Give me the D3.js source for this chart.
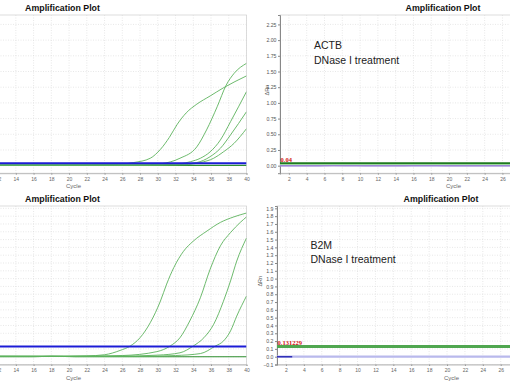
<!DOCTYPE html>
<html><head><meta charset="utf-8">
<script src="https://cdn.jsdelivr.net/npm/d3@7"></script>
<style>
html,body{margin:0;padding:0;background:#fff;}
svg{display:block;font-family:"Liberation Sans",Arial,sans-serif;}
</style></head>
<body>
<svg id="chart" width="510" height="382"></svg>
<script>
// ---------- data ----------
const cycleTicks = [2,4,6,8,10,12,14,16,18,20,22,24,26,28,30,32,34,36,38,40];
const actbYTicks = [0,0.25,0.5,0.75,1,1.25,1.5,1.75,2,2.25];
const b2mYTicks = [-0.1,0,0.1,0.2,0.3,0.4,0.5,0.6,0.7,0.8,0.9,1.0,1.1,1.2,1.3,1.4,1.5,1.6,1.7,1.8,1.9];

const titleText = "Amplification Plot";
const xLabel = "Cycle";
const yLabel = "\u0394Rn";

// ACTB without DNase (top-left): [cycle, ΔRn]
const actbCurveA = [[1,0.012],[10,0.010],[20,0.012],[25,0.02],[27.3,0.05],[29.15,0.118],[30.3,0.26],[31.3,0.45],[32.2,0.66],[33.2,0.84],[34.4,0.98],[35.9,1.11],[37.4,1.24],[40,1.43]];
const actbCurveB = [[1,0.01],[20,0.008],[28,0.01],[30.3,0.03],[32.5,0.118],[34.4,0.30],[35.5,0.57],[36.7,0.94],[37.7,1.28],[38.6,1.47],[40,1.63]];
const actbCurveC = [[1,0.01],[20,0.008],[30,0.012],[32.5,0.03],[33.7,0.064],[34.8,0.118],[35.9,0.22],[37.06,0.41],[38.2,0.70],[40,1.18]];
const actbCurveD = [[1,0.008],[25,0.008],[32,0.015],[34.4,0.05],[35.9,0.143],[37.06,0.277],[38.2,0.49],[40,0.86]];
const actbCurveE = [[1,0.008],[25,0.008],[33,0.015],[34.8,0.05],[36.3,0.118],[37.4,0.22],[38.6,0.356],[40,0.59]];
const actbFlat = [[1,0.004],[40,0.004]];
const actbThreshold = 0.04;

// ACTB with DNase I (top-right)
const actbDnaseGreen = [[1,0.02],[40,0.02]];
const actbDnaseBase = [[1,0],[40,0]];
const actbDnaseBump1 = [[1,0],[5,0],[7,0.006],[9,0.004],[10.5,0],[40,0]];
const actbDnaseBump2 = [[1,0],[15,0],[16.5,0.005],[18,0.004],[19.5,0],[40,0]];

// B2M without DNase (bottom-left)
const b2mCurve1 = [[1,0.008],[18,0.004],[22,0.01],[24,0.025],[25.75,0.08],[26.9,0.137],[28.0,0.243],[29.15,0.435],[30.3,0.713],[31.0,0.93],[31.8,1.14],[32.9,1.35],[34.0,1.48],[35.55,1.61],[37.06,1.72],[38.56,1.79],[40,1.84]];
const b2mCurve2 = [[1,0.008],[20,0.005],[26,0.015],[29.9,0.065],[31.4,0.137],[32.5,0.243],[33.6,0.457],[34.8,0.755],[35.9,1.12],[37.06,1.42],[38.2,1.59],[39.3,1.72],[40,1.79]];
const b2mCurve3 = [[1,0.005],[25,0.005],[30,0.02],[32.5,0.05],[34.0,0.137],[35.2,0.243],[36.3,0.415],[37.4,0.71],[38.2,0.97],[38.9,1.225],[40,1.52]];
const b2mCurve4 = [[1,0.005],[28,0.005],[32,0.015],[34.8,0.04],[36.5,0.137],[37.4,0.2],[38.2,0.33],[38.9,0.52],[40,0.777]];
const b2mFlat = [[1,0.0],[16,0.0],[18,0.004],[21,0.0],[40,0.0]];
const b2mThreshold = 0.131229;

// B2M with DNase I (bottom-right)
const b2mDnaseBase = [[1,0],[40,0]];
const b2mDnaseStart = [[1,0],[2.7,0]];

// ---------- drawing ----------
const W = 510;
const svg = d3.select("#chart");
const defs = svg.append("defs");

function panel(cfg){
  const g = svg.append("g");
  const x = d3.scaleLinear().domain([1,40]).range(cfg.xr);
  const y = d3.scaleLinear().domain(cfg.yd).range(cfg.yr);
  const left = cfg.xr[0], right = cfg.xr[1], top = cfg.yr[1], bottom = cfg.yr[0];
  const id = "clip" + cfg.id;
  defs.append("clipPath").attr("id", id).append("rect")
    .attr("x", left).attr("y", top).attr("width", right-left).attr("height", bottom-top);

  // title
  g.append("text").attr("x", cfg.titleX).attr("y", top - 4.5)
    .attr("text-anchor","middle").attr("font-size",8.8).attr("font-weight","bold")
    .attr("fill","#111").text(titleText);

  // grid
  const grid = g.append("g").attr("stroke","#d9d9d9").attr("stroke-width",0.6).attr("stroke-dasharray","1,1.5");
  grid.selectAll("line.v").data(cycleTicks).enter().append("line")
    .attr("x1",d=>x(d)).attr("x2",d=>x(d)).attr("y1",top).attr("y2",bottom);
  grid.selectAll("line.h").data(cfg.yTicks).enter().append("line")
    .attr("y1",d=>y(d)).attr("y2",d=>y(d)).attr("x1",left).attr("x2",right);

  // frame
  g.append("rect").attr("x",left).attr("y",top).attr("width",right-left).attr("height",bottom-top)
    .attr("fill","none").attr("stroke","#d4d4d4").attr("stroke-width",0.8);

  // x axis (only the ticks that fall inside the picture)
  const visTicks = cycleTicks.filter(d => x(d) > -4 && x(d) < W + 4);
  const xa = g.append("g").attr("transform",`translate(0,${bottom})`)
    .call(d3.axisBottom(x).tickValues(visTicks).tickSize(1.5).tickPadding(2.5).tickFormat(d3.format("d")));
  xa.select(".domain").attr("stroke","#bbb");
  xa.selectAll(".tick line").attr("stroke","#999");
  xa.selectAll("text").attr("font-size",5).attr("fill","#666").attr("font-family","Liberation Sans, Arial, sans-serif");

  g.append("text").attr("x",(left+right)/2).attr("y",bottom+15)
    .attr("text-anchor","middle").attr("font-size",6).attr("fill","#666").text(xLabel);

  // y axis only where it is inside the picture
  if (left >= 0){
    const ya = g.append("g").attr("transform",`translate(${left},0)`)
      .call(d3.axisLeft(y).tickValues(cfg.yTicks).tickSize(2).tickPadding(1.5).tickFormat(d3.format(cfg.yFmt)));
    ya.select(".domain").attr("stroke","#888");
    ya.selectAll(".tick line").attr("stroke","#888");
    ya.selectAll("text").attr("font-size",5.2).attr("fill","#555").attr("font-family","Liberation Sans, Arial, sans-serif");
    g.append("text").attr("transform",`translate(${cfg.yLabelX},${(top+bottom)/2 - 4}) rotate(-90)`)
      .attr("text-anchor","middle").attr("font-size",5.5).attr("fill","#555").text(yLabel);
  }

  // lines
  const plot = g.append("g").attr("clip-path",`url(#${id})`);
  const line = d3.line().x(d=>x(d[0])).y(d=>y(d[1])).curve(d3.curveMonotoneX);
  cfg.series.forEach(s=>{
    plot.append("path").datum(s.data).attr("d",line)
      .attr("fill","none").attr("stroke",s.color).attr("stroke-width",s.w)
      .attr("opacity", s.op || 1);
  });
  if (cfg.threshold){
    const t = cfg.threshold;
    plot.append("line").attr("x1",left).attr("x2",right).attr("y1",y(t.v)).attr("y2",y(t.v))
      .attr("stroke",t.color).attr("stroke-width",t.w);
    if (t.label){
      g.append("text").attr("x",left+0.5).attr("y",y(t.v)-1.2)
        .attr("font-size",6.5).attr("font-weight","bold").attr("fill","#d01010")
        .attr("font-family","Liberation Serif, Times New Roman, serif").text(t.label);
    }
  }
  if (cfg.note){
    g.append("text").attr("x",cfg.note.x).attr("y",cfg.note.y)
      .attr("font-size",10.5).attr("fill","#222").text(cfg.note.l1);
    g.append("text").attr("x",cfg.note.x).attr("y",cfg.note.y+14.5)
      .attr("font-size",10.5).attr("fill","#222").text(cfg.note.l2);
  }
  return g;
}

const curveGreen = "#5cb25c";

// top-left: ACTB
panel({
  id:"tl", xr:[-99.5,246.5], yd:[-0.12,2.4], yr:[173.2,15], yTicks:actbYTicks, yFmt:".2f",
  titleX:62.5, yLabelX:-110,
  series:[
    {data:actbFlat,color:"#2f8f2f",w:1.2},
    {data:actbCurveA,color:curveGreen,w:0.9},
    {data:actbCurveB,color:curveGreen,w:0.9},
    {data:actbCurveC,color:curveGreen,w:0.9},
    {data:actbCurveD,color:curveGreen,w:0.9},
    {data:actbCurveE,color:curveGreen,w:0.9}
  ],
  threshold:{v:actbThreshold,color:"#1c1cd6",w:2}
});

// top-right: ACTB DNase I
panel({
  id:"tr", xr:[280,627], yd:[-0.12,2.4], yr:[173.2,15], yTicks:actbYTicks, yFmt:".2f",
  titleX:443, yLabelX:268.5,
  series:[
    {data:actbDnaseBase,color:"#a7a7ee",w:1.3},
    {data:actbDnaseBump1,color:"#8c80e0",w:1.6,op:0.6},
    {data:actbDnaseBump2,color:"#a080c8",w:1.6,op:0.6},
    {data:actbDnaseGreen,color:"#98d898",w:1}
  ],
  threshold:{v:actbThreshold,color:"#1e7a1e",w:1.8,label:"0.04"},
  note:{x:314,y:49,l1:"ACTB",l2:"DNase I treatment"}
});

// bottom-left: B2M
panel({
  id:"bl", xr:[-99.5,246.5], yd:[-0.1,1.93], yr:[364.5,206], yTicks:b2mYTicks, yFmt:".1f",
  titleX:62.5, yLabelX:-110,
  series:[
    {data:b2mFlat,color:"#2f8f2f",w:1.1},
    {data:b2mCurve1,color:curveGreen,w:0.9},
    {data:b2mCurve2,color:curveGreen,w:0.9},
    {data:b2mCurve3,color:curveGreen,w:0.9},
    {data:b2mCurve4,color:curveGreen,w:0.9}
  ],
  threshold:{v:b2mThreshold,color:"#1c1cd6",w:2}
});

// bottom-right: B2M DNase I
panel({
  id:"br", xr:[277,626], yd:[-0.1,1.93], yr:[364.5,206], yTicks:b2mYTicks, yFmt:".1f",
  titleX:441, yLabelX:262,
  series:[
    {data:b2mDnaseBase,color:"#b9b9ec",w:2.2},
    {data:b2mDnaseStart,color:"#3030b8",w:1.4}
  ],
  threshold:{v:b2mThreshold,color:"#4fa64f",w:3,label:"0.131229"},
  note:{x:310.5,y:248.5,l1:"B2M",l2:"DNase I treatment"}
});
</script>
</body></html>
